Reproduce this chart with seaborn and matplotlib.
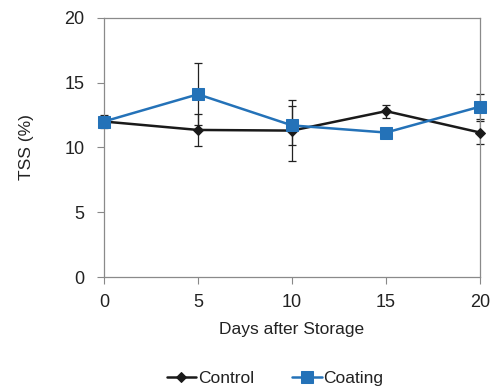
import numpy as np
import pandas as pd
import matplotlib
matplotlib.use("Agg")
import matplotlib.pyplot as plt
import seaborn as sns

days = [0, 5, 10, 15, 20]
control = [12.0, 11.35, 11.3, 12.8, 11.15]
control_err = [0.5, 1.2, 2.35, 0.5, 0.9]
coating = [12.0, 14.1, 11.7, 11.15, 13.15]
coating_err = [0.3, 2.4, 1.5, 0.3, 0.95]
series_names = ["Control", "Coating"]

sns.set_theme(style="white")
plt.rcParams['font.family'] = ['Liberation Sans', 'DejaVu Sans']

df = pd.DataFrame({
    "Days": days * 2,
    "TSS": control + coating,
    "Series": [series_names[0]] * len(days) + [series_names[1]] * len(days),
})

colors = {"Control": "#1a1a1a", "Coating": "#2472b8"}
markers = {"Control": "D", "Coating": "s"}
sizes = {"Control": 5, "Coating": 8}

fig = plt.figure(figsize=(4.95, 3.87), dpi=100)
ax = fig.add_axes([0.210, 0.284, 0.760, 0.670])

for name, vals, errs in [("Control", control, control_err), ("Coating", coating, coating_err)]:
    ax.errorbar(days, vals, yerr=errs, fmt="none", ecolor="#222222",
                elinewidth=0.9, capsize=3, capthick=0.9, zorder=2)

for name in series_names:
    sub = df[df["Series"] == name]
    sns.lineplot(data=sub, x="Days", y="TSS", ax=ax, color=colors[name],
                 marker=markers[name], markersize=sizes[name],
                 markeredgecolor=colors[name], linewidth=1.8,
                 label=name, zorder=3)

ax.set_xlim(0, 20)
ax.set_ylim(0, 20)
ax.set_xticks([0, 5, 10, 15, 20])
ax.set_yticks([0, 5, 10, 15, 20])
ax.set_xlabel("Days after Storage", fontsize=12.5, color="#222222", labelpad=8)
ax.set_ylabel("TSS (%)", fontsize=12.5, color="#222222", labelpad=22)
ax.tick_params(axis="both", which="both", direction="out", length=5, width=0.8,
               color="#888888", labelsize=13, labelcolor="#222222", pad=7)
ax.tick_params(axis="y", left=True, pad=9)
ax.tick_params(axis="x", bottom=True)
for s in ax.spines.values():
    s.set_visible(True)
    s.set_color("#8a8a8a")
    s.set_linewidth(0.9)
ax.grid(False)
for ln in ax.lines:
    ln.set_clip_on(False)

leg = ax.legend(loc="upper center", bbox_to_anchor=(0.455, -0.335), ncol=2,
                frameon=False, fontsize=12.5, handlelength=1.7,
                handletextpad=0.1, columnspacing=2.2, borderaxespad=0)
for t in leg.get_texts():
    t.set_color("#222222")

fig.savefig("out.png", dpi=100)
